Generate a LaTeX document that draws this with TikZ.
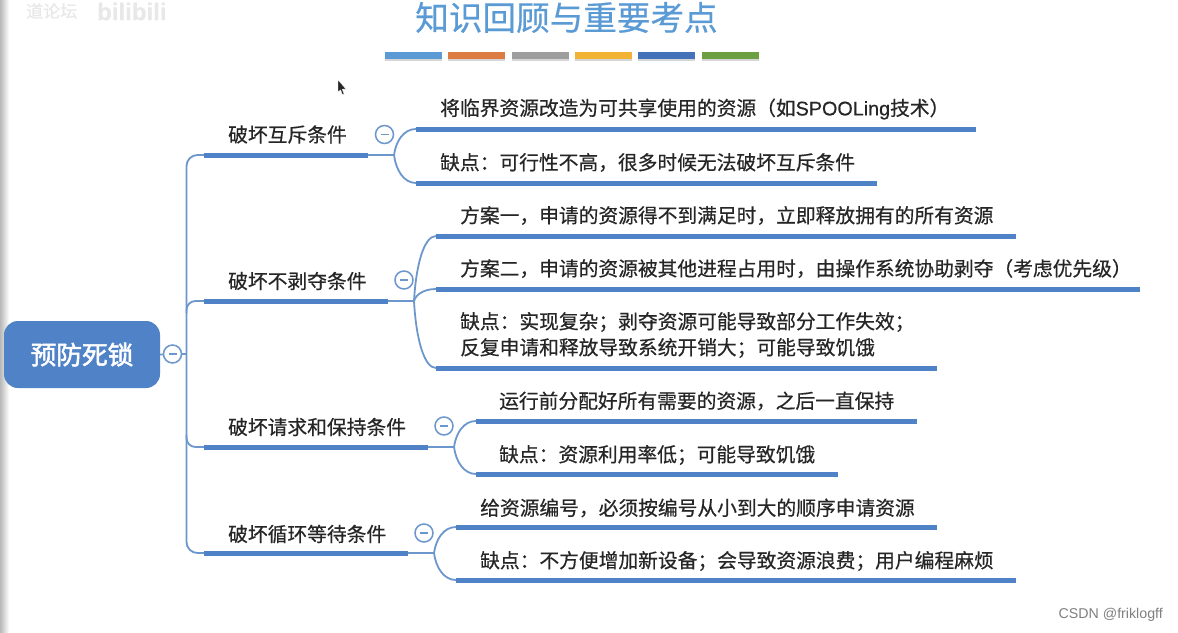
\documentclass[tikz,border=0pt]{standalone}
\usepackage{fontspec}
\usetikzlibrary{calc}
\setmainfont{Noto Sans CJK SC}
\newfontfamily\latinf{Liberation Sans}
\newfontfamily\cjkmid[FakeBold=0.5]{Noto Sans CJK SC}
\newfontfamily\cjkstrong[FakeBold=2]{Noto Sans CJK SC}
\newfontfamily\latinmid[FakeBold=0.5]{Liberation Sans}
\definecolor{mapblue}{HTML}{4F82C6}
\definecolor{linkblue}{HTML}{6C97CC}
\definecolor{titleblue}{HTML}{5B9BD5}
\definecolor{inkc}{HTML}{262626}
\definecolor{s1}{HTML}{5B9BD5}
\definecolor{s2}{HTML}{DD7C42}
\definecolor{s3}{HTML}{9E9E9E}
\definecolor{s4}{HTML}{F2B233}
\definecolor{s5}{HTML}{4472B8}
\definecolor{s6}{HTML}{6C9E42}
\tikzset{
  x=1pt,y=-1pt,
  leaf/.style={anchor=west,inner sep=0pt,text=inkc,font=\cjkmid\fontsize{19.75}{26}\selectfont,align=left},
  topic/.style={leaf},
  bar/.style={draw=mapblue,line width=5pt},
  link/.style={draw=linkblue,line width=1.8pt},
  collapse/.style={circle,draw=linkblue,line width=1.5pt,fill=white,minimum size=18pt,inner sep=0pt,
    path picture={\draw[linkblue,line width=1.2pt] ([xshift=-4pt]path picture bounding box.center) -- ([xshift=4pt]path picture bounding box.center);}},
  strip/.style={line width=7pt,draw=#1},
  stripshadow/.style={line width=7pt,draw=black!16},
}
\begin{document}
\begin{tikzpicture}
\useasboundingbox (0,0) rectangle (1178,632);
\fill[white] (0,0) rectangle (1178,632);
\shade[left color=black!28,right color=white] (0,0) rectangle (9,632);
% faint screen marks
\node[anchor=west,inner sep=0pt,text=black!9,font=\cjkmid\fontsize{17}{19}\selectfont] (mk1) at (26,11) {道论坛};
\node[anchor=west,inner sep=0pt,text=black!9,font=\latinmid\bfseries\fontsize{24}{26}\selectfont] (mk2) at (97,11.5) {bilibili};
% title and colour strips
\node[inner sep=0pt,text=titleblue,font=\cjkmid\fontsize{33.6}{36}\selectfont] (title) at (566.5,17.5) {知识回顾与重要考点};
\foreach \a/\b/\c [count=\i] in {385/442/s1,448/505/s2,512/569/s3,575/632/s4,638/695/s5,702/759/s6}{
  \coordinate (sa\i) at (\a,55.5); \coordinate (sb\i) at (\b,55.5);
  \draw[stripshadow] ([yshift=-2pt]sa\i) -- ([yshift=-2pt]sb\i);
  \draw[strip=\c] (sa\i) -- (sb\i);
}
% pointer
\fill[black!85,draw=white,line width=.3pt] (338,80) -- (338,92) -- (340.6,89.8) -- (342.4,94.8) -- (344,94) -- (342.2,89.2) -- (346,89) -- cycle;
% root
\node[rounded corners=14pt,fill=mapblue,minimum width=156pt,minimum height=67pt,inner sep=0pt,
  text=white,font=\cjkstrong\fontsize{25.7}{28}\selectfont] (root) at (82,354.5) {预防死锁};
\coordinate (trunk) at (186.5,354);
\coordinate (t1) at (204,155);
\coordinate (t2) at (204,301);
\coordinate (t3) at (204,447);
\coordinate (t4) at (204,553);
\coordinate (e1) at (394,155);
\coordinate (e2) at (414,301);
\coordinate (e3) at (454,447);
\coordinate (e4) at (434,553);
% trunk
\draw[link] (root.east) -- (trunk);
\draw[link,rounded corners=11pt] (t1) -| (trunk) |- (t4);
\draw[link,rounded corners=9pt] ([yshift=-12pt]trunk |- t2) |- (t2);
\draw[link,rounded corners=9pt] ([yshift=12pt]trunk |- t3) |- (t3);
\node[collapse] (c0) at (172.5,354) {};
% topic bars
\coordinate (te1) at (368,155);
\coordinate (te2) at (388,301);
\coordinate (te3) at (428,447);
\coordinate (te4) at (408,553);
\foreach \i in {1,2,3,4}{
  \draw[link] (te\i) -- (e\i);
  \draw[bar] (t\i) -- (te\i);
}
\node[topic] (n1) at (228,134.5) {破坏互斥条件};
\node[topic] (n2) at (228,281) {破坏不剥夺条件};
\node[topic] (n3) at (228,427) {破坏请求和保持条件};
\node[topic] (n4) at (228,534) {破坏循环等待条件};
\node[collapse] (c1) at (384.5,134.5) {};
\node[collapse] (c2) at (404,280) {};
\node[collapse] (c3) at (444,426) {};
\node[collapse] (c4) at (424,533) {};
% leaf bars
\foreach \n/\e/\x/\y/\z in {
  a/e1/416/129/976, b/e1/416/183/877,
  c/e2/436/236/1016, d/e2/436/289/1140, f/e2/436/368/937,
  g/e3/476/421/917, h/e3/476/474/838,
  i/e4/456/527/937, j/e4/456/580/1016}{
  \coordinate (ls\n) at (\x,\y);
  \coordinate (le\n) at (\z,\y);
  \coordinate (mm\n) at ($(\e)!0.55!(ls\n)$);
  \coordinate (qq\n) at ($(\e)!0.45!(ls\n)$);
  \draw[link] (\e) .. controls ([xshift=2pt]\e |- mm\n) and (qq\n |- ls\n) .. (ls\n);
  \draw[bar] (ls\n) -- (le\n);
}
% leaf text
\node[leaf] (la) at (440,109) {将临界资源改造为可共享使用的资源（如{\latinmid SPOOLing}技术）};
\node[leaf] (lb) at (440,162.5) {缺点：可行性不高，很多时候无法破坏互斥条件};
\node[leaf] (lc) at (460,215.5) {方案一，申请的资源得不到满足时，立即释放拥有的所有资源};
\node[leaf] (ld) at (460,268.5) {方案二，申请的资源被其他进程占用时，由操作系统协助剥夺（考虑优先级）};
\node[leaf] (lf) at (460,335) {缺点：实现复杂；剥夺资源可能导致部分工作失效；\\反复申请和释放导致系统开销大；可能导致饥饿};
\node[leaf] (lg) at (499,401) {运行前分配好所有需要的资源，之后一直保持};
\node[leaf] (lh) at (499,455) {缺点：资源利用率低；可能导致饥饿};
\node[leaf] (li) at (480,508) {给资源编号，必须按编号从小到大的顺序申请资源};
\node[leaf] (lj) at (480,561) {缺点：不方便增加新设备；会导致资源浪费；用户编程麻烦};
% watermark
\node[anchor=east,inner sep=0pt,text=black!50,font=\latinf\fontsize{14.2}{15}\selectfont] (mark) at (1163,615) {CSDN @friklogff};
\end{tikzpicture}
\end{document}
